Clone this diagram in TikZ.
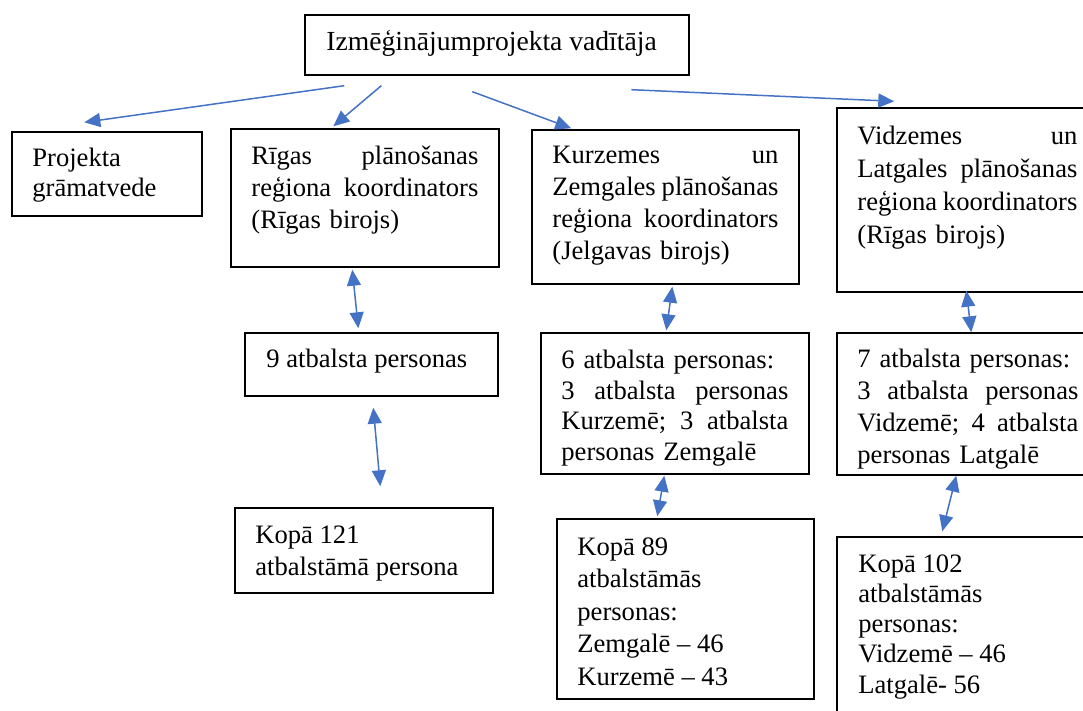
\documentclass[tikz,border=0pt]{standalone}
\usepackage{fontspec}
\setmainfont{Liberation Serif}
\usetikzlibrary{arrows.meta,fit}
\definecolor{linkblue}{HTML}{4472C4}
\newcommand{\spreadline}[2][113.5pt]{\makebox[#1][l]{#2}}
\tikzset{
  box/.style={draw, line width=0.7pt, inner sep=0pt},
  txt/.style={anchor=base west, inner sep=0pt, align=left, font=\fontsize{13.3}{16}\selectfont},
  lsp/.style={font=\fontsize{13.3}{#1}\selectfont},
  link/.style={linkblue, line width=0.75pt, -{Triangle[length=8pt,width=7pt]}},
  twoway/.style={linkblue, line width=0.75pt, {Triangle[length=8pt,width=7pt]}-{Triangle[length=8pt,width=7pt]}},
}
\begin{document}
\begin{tikzpicture}[x=0.5pt, y=-0.5pt]
            \useasboundingbox (0,0) rectangle (1083,711);
            \clip (0,0) rectangle (1083,711);
            % boxes
            \node[box, fit={(305,15) (689,75)}] (head) {};
            \node[box, fit={(12,132) (202,216)}] (books) {};
            \node[box, fit={(231,129) (499,267)}] (riga) {};
            \node[box, fit={(532,130) (799,284)}] (kurz) {};
            \node[box, fit={(837,108) (1095,292)}] (vidz) {};
            \node[box, fit={(245,333) (498,396)}] (rigasup) {};
            \node[box, fit={(541,333) (809,474)}] (kurzsup) {};
            \node[box, fit={(837,333) (1095,475)}] (vidzsup) {};
            \node[box, fit={(235,508) (493,593)}] (rigatot) {};
            \node[box, fit={(557,519) (814,699)}] (kurztot) {};
            \node[box, fit={(837,537) (1095,720)}] (vidztot) {};
            % texts
            \node[txt, font=\fontsize{13.8}{16}\selectfont] (headT) at (326,51) {Izmēģinājumprojekta vadītāja};
            \node[txt, lsp=15pt] (booksT) at (32,197) {Projekta\\grāmatvede};
            \node[txt, text width=113.5pt] (rigaT) at (251,165) {\spreadline{Rīgas\hfill plānošanas}\\ \spreadline{reģiona\hfill koordinators}\\ (Rīgas birojs)};
            \node[txt, text width=113pt, lsp=15.85pt] (kurzT) at (552,164) {\spreadline[113pt]{Kurzemes\hfill un}\\ \spreadline[113pt]{Zemgales\hfill plānošanas}\\ \spreadline[113pt]{reģiona\hfill koordinators}\\ (Jelgavas birojs)};
            \node[txt, text width=110pt, lsp=16.5pt] (vidzT) at (857,145) {\spreadline[110pt]{Vidzemes\hfill un}\\ \spreadline[110pt]{Latgales\hfill plānošanas}\\ \spreadline[110pt]{reģiona\hfill koordinators}\\ (Rīgas birojs)};
            \node[txt] (rigasupT) at (266,368) {9 atbalsta personas};
            \node[txt, text width=113.5pt, lsp=15.25pt] (kurzsupT) at (561,369) {6 atbalsta personas:\\ \spreadline{3\hfill atbalsta\hfill personas}\\ \spreadline{Kurzemē;\hfill 3\hfill atbalsta}\\ personas Zemgalē};
            \node[txt, text width=110.5pt] (vidzsupT) at (857,368) {7 atbalsta personas:\\ \spreadline[110.5pt]{3\hfill atbalsta\hfill personas}\\ \spreadline[110.5pt]{Vidzemē;\hfill 4\hfill atbalsta}\\ personas Latgalē};
            \node[txt] (rigatotT) at (255,575) {Kopā 121\\atbalstāmā persona};
            \node[txt, lsp=16.25pt] (kurztotT) at (577,685) {Kopā 89\\atbalstāmās\\personas:\\Zemgalē – 46\\Kurzemē – 43};
            \node[txt, lsp=15.1pt] (vidztotT) at (858,693) {Kopā 102\\atbalstāmās\\personas:\\Vidzemē – 46\\Latgalē- 56};
            % links from the head
            \draw[link] ([shift={(40,10)}]head.south west) -- ([shift={(73,-9)}]books.north west);
            \draw[link] ([shift={(77,10)}]head.south west) -- ([shift={(103,-2)}]riga.north west);
            \draw[link] ([shift={(168,16)}]head.south west) -- ([shift={(40,-1)}]kurz.north west);
            \draw[link] ([shift={(327,14)}]head.south west) -- ([shift={(58,-6)}]vidz.north west);
            % two-way links
            \draw[twoway] ([shift={(122,2)}]riga.south west) -- ([shift={(114,-4)}]rigasup.north west);
            \draw[twoway] ([shift={(129,11)}]rigasup.south west) -- ([shift={(146,-21)}]rigatot.north west);
            \draw[twoway] ([shift={(141,2)}]kurz.south west) -- ([shift={(126,-2)}]kurzsup.north west);
            \draw[twoway] ([shift={(124,1)}]kurzsup.south west) -- ([shift={(101,-2)}]kurztot.north west);
            \draw[twoway] ([shift={(130,-2)}]vidz.south west) -- ([shift={(135,0)}]vidzsup.north west);
            \draw[twoway] ([shift={(120,0)}]vidzsup.south west) -- ([shift={(106,-5)}]vidztot.north west);
\end{tikzpicture}
\end{document}
